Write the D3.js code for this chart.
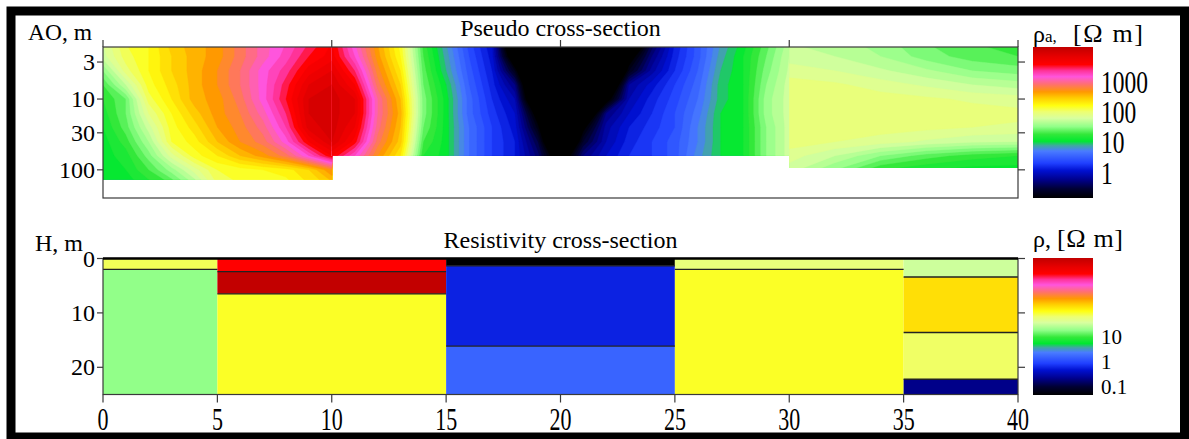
<!DOCTYPE html>
<html>
<head>
<meta charset="utf-8">
<script src="https://cdn.jsdelivr.net/npm/d3@7"></script>
<style>
  html, body { margin: 0; padding: 0; background: #fff; }
  svg { display: block; font-family: "Liberation Serif", "Times New Roman", serif; }
</style>
</head>
<body>
<svg id="chart" width="1189" height="439"></svg>
<script>
// ---------------- axis ticks ----------------
const profileTicks = [0, 5, 10, 15, 20, 25, 30, 35, 40];   // x, m
const profileTopTicks = [0, 10, 20, 30, 40];
const aoTicks = [3, 10, 30, 100];                          // AO, m
const depthTicks = [0, 10, 20];                            // H, m
const rhoaBarTicks = [1000, 100, 10, 1];
const rhoBarTicks = [10, 1, 0.1];

// ---------------- pseudo cross-section ----------------
// AO levels of the sounding grid (m)
const aoLevels = [1.6, 2.5, 4, 6.3, 10, 16, 25, 40, 63, 100, 160];
// section edges along the profile and deepest AO reached in each
const sectionEdges = [0, 10, 30, 40];
const sectionMaxAO = [138, 63, 94];

const xLeft = [0, 1, 2, 3, 4, 5, 6, 7, 8, 9, 10];
// log10 apparent resistivity, rows follow aoLevels
const logRhoaLeft = [
  [1.80, 2.10, 2.20, 2.45, 2.55, 2.65, 2.85, 3.05, 3.20, 3.40, 3.60],
  [1.75, 2.05, 2.20, 2.40, 2.55, 2.65, 2.85, 3.05, 3.25, 3.50, 3.65],
  [1.50, 1.95, 2.20, 2.40, 2.55, 2.70, 2.90, 3.15, 3.35, 3.65, 3.80],
  [1.30, 1.70, 2.15, 2.35, 2.55, 2.70, 2.90, 3.15, 3.45, 3.80, 3.90],
  [1.20, 1.40, 2.05, 2.30, 2.55, 2.65, 2.85, 3.15, 3.50, 3.90, 3.95],
  [1.15, 1.40, 1.90, 2.20, 2.45, 2.65, 2.80, 3.05, 3.40, 3.90, 3.95],
  [1.10, 1.35, 1.75, 2.15, 2.35, 2.60, 2.75, 2.95, 3.30, 3.85, 3.95],
  [1.05, 1.25, 1.60, 2.10, 2.25, 2.50, 2.70, 2.85, 3.15, 3.60, 3.90],
  [1.05, 1.15, 1.45, 1.85, 2.15, 2.30, 2.50, 2.65, 2.85, 3.20, 3.60],
  [1.00, 1.10, 1.30, 1.55, 1.85, 2.10, 2.15, 2.20, 2.25, 2.40, 2.70],
  [1.00, 1.05, 1.15, 1.30, 1.60, 2.00, 2.10, 2.15, 2.15, 2.30, 2.45]
];

const xMiddle = [10, 11, 12, 13, 14, 15, 16, 17, 18, 19, 20, 21, 22, 23, 24, 25, 26, 27, 28, 29, 30];
const logRhoaMiddle = [
  [3.60, 3.10, 2.60, 2.15, 1.25, 0.80, 0.35, 0.00, -1.60, -2.0, -2.0, -2.0, -2.0, -1.80, -0.50, 0.10, 0.45, 0.80, 1.05, 1.35, 1.65],
  [3.65, 3.20, 2.65, 2.20, 1.30, 0.85, 0.40, 0.05, -1.20, -2.0, -2.0, -2.0, -2.0, -1.00, -0.30, 0.15, 0.45, 0.85, 1.10, 1.40, 1.70],
  [3.80, 3.40, 2.75, 2.30, 1.35, 0.90, 0.45, 0.10, -0.70, -2.0, -2.0, -2.0, -2.0, -0.70, -0.15, 0.20, 0.50, 0.90, 1.10, 1.45, 1.72],
  [3.90, 3.60, 2.85, 2.40, 1.40, 1.00, 0.50, 0.15, -0.30, -1.80, -2.0, -2.0, -1.60, -0.20, 0.05, 0.30, 0.55, 0.95, 1.10, 1.50, 1.75],
  [3.95, 3.80, 3.00, 2.50, 1.45, 1.05, 0.55, 0.20, -0.10, -1.60, -2.0, -2.0, -1.00, -0.10, 0.15, 0.35, 0.60, 0.95, 1.10, 1.55, 1.75],
  [3.95, 3.80, 3.00, 2.55, 1.45, 1.05, 0.55, 0.25, 0.00, -1.00, -2.0, -1.50, -0.30, 0.00, 0.20, 0.40, 0.65, 1.00, 1.10, 1.55, 1.75],
  [3.95, 3.70, 2.95, 2.50, 1.40, 1.05, 0.60, 0.30, 0.05, -0.75, -2.0, -0.90, -0.15, 0.10, 0.25, 0.40, 0.70, 1.00, 1.10, 1.50, 1.75],
  [3.90, 3.55, 2.85, 2.45, 1.30, 1.05, 0.60, 0.30, 0.10, -0.50, -1.80, -0.60, -0.10, 0.15, 0.30, 0.45, 0.70, 1.00, 1.10, 1.50, 1.75],
  [3.60, 3.20, 2.70, 2.30, 1.20, 1.05, 0.60, 0.30, 0.10, -0.35, -1.20, -0.30, 0.00, 0.20, 0.30, 0.45, 0.75, 1.00, 1.10, 1.50, 1.75]
];

const xRight = [30, 32, 34, 36, 38, 40];
const logRhoaRight = [
  [1.70, 1.65, 1.55, 1.40, 1.30, 1.25],
  [1.75, 1.70, 1.60, 1.45, 1.35, 1.30],
  [1.85, 1.80, 1.72, 1.62, 1.50, 1.45],
  [1.95, 1.92, 1.85, 1.78, 1.70, 1.65],
  [1.97, 1.97, 1.95, 1.92, 1.88, 1.85],
  [1.98, 1.98, 1.97, 1.96, 1.95, 1.93],
  [1.97, 1.97, 1.95, 1.93, 1.90, 1.88],
  [1.95, 1.90, 1.85, 1.78, 1.72, 1.70],
  [1.85, 1.70, 1.50, 1.35, 1.25, 1.20],
  [1.75, 1.50, 1.20, 1.10, 1.05, 1.05]
];

// ---------------- resistivity model ----------------
const blockEdges = [0, 5, 15, 25, 35, 40];
const layerDepths = [
  [0, 2.0, 25],
  [0, 2.4, 6.5, 25],
  [0, 1.35, 16.1, 25],
  [0, 2.0, 25],
  [0, 3.4, 13.6, 22.2, 25]
];
const layerRho = [
  [70, 18],
  [3000, 12000, 90],
  [0.05, 0.6, 1.6],
  [54, 90],
  [32, 150, 65, 0.22]
];

// ---------------- colour map ----------------
const colormapStops = [0, 0.06, 0.12, 0.181, 0.231, 0.311, 0.347, 0.376, 0.422, 0.472, 0.528,
                       0.572, 0.612, 0.663, 0.703, 0.753, 0.803, 0.843, 0.884, 0.934, 1];
const colormapColors = ["#000000", "#000033", "#00008a", "#0010d0", "#2040ff", "#4a7cff", "#40a8a0",
                        "#00e830", "#33e83a", "#90ff88", "#d8ffa0", "#eeff70", "#ffff10", "#ffcc00",
                        "#ff9900", "#ff7070", "#ff55dd", "#ff3399", "#ff0000", "#e80000", "#c00000"];
const rhoaLogRange = [-0.85, 4.13];
const rhoLogRange = [-1.3, 4.1];

// ---------------- scales ----------------
const svg = d3.select("#chart");
const x = d3.scaleLinear([0, 40], [103, 1018]);
const yAO = d3.scaleLog([1.84, 250], [47, 198]);
const yH = d3.scaleLinear([0, 25], [258.5, 394.5]);

const cmap = d3.scaleLinear(colormapStops, colormapColors).clamp(true);
const tTop = d3.scaleLinear(rhoaLogRange, [0, 1]).clamp(true);
const tBottom = d3.scaleLinear(rhoLogRange, [0, 1]).clamp(true);
const colorTop = v => cmap(tTop(v));
const colorBottom = rho => cmap(tBottom(Math.log10(rho)));

const barTop = d3.scaleLinear(rhoaLogRange, [198, 47]);
const barBottom = d3.scaleLinear(rhoLogRange, [395, 258]);

svg.append("rect").attr("x", 0).attr("y", 0).attr("width", 1189).attr("height", 439).attr("fill", "#fff");

const defs = svg.append("defs");

// ---------------- pseudo section fields ----------------
function drawField(xs, grid, x0, x1, aoMax, id, padR) {
  const nx = xs.length, ny = grid.length;
  const lv = aoLevels.slice(0, ny).map(Math.log10);
  const interp = (arr, c) => {
    const i = c - 0.5;
    const k = Math.max(0, Math.min(arr.length - 2, Math.floor(i)));
    return arr[k] + (i - k) * (arr[k + 1] - arr[k]);
  };
  const proj = d3.geoTransform({
    point(px, py) { this.stream.point(x(interp(xs, px)), yAO(Math.pow(10, interp(lv, py)))); }
  });
  const path = d3.geoPath(proj);
  const thresholds = d3.range(-2.1, 4.25, 0.1);
  const contours = d3.contours().size([nx, ny]).thresholds(thresholds)(grid.flat());

  defs.append("clipPath").attr("id", id).append("rect")
    .attr("x", x(x0)).attr("y", yAO.range()[0])
    .attr("width", x(x1) - x(x0) + padR)
    .attr("height", yAO(aoMax) - yAO.range()[0]);

  svg.append("g").attr("clip-path", `url(#${id})`)
    .selectAll("path").data(contours).join("path")
    .attr("d", path)
    .attr("fill", d => colorTop(d.value + 0.05))
    .attr("stroke", d => colorTop(d.value + 0.05))
    .attr("stroke-width", 0.4);
}
drawField(xLeft, logRhoaLeft, sectionEdges[0], sectionEdges[1], sectionMaxAO[0], "clipL", 0.6);
drawField(xMiddle, logRhoaMiddle, sectionEdges[1], sectionEdges[2], sectionMaxAO[1], "clipM", 0);
drawField(xRight, logRhoaRight, sectionEdges[2], sectionEdges[3], sectionMaxAO[2], "clipR", 0);

// top panel box
const axisColor = "#3a3a3a";
svg.append("rect").attr("x", x(0)).attr("y", 47).attr("width", x(40) - x(0)).attr("height", 151)
  .attr("fill", "none").attr("stroke", axisColor).attr("stroke-width", 1.2);

svg.append("g").selectAll("line").data(profileTopTicks).join("line")
  .attr("x1", d => x(d)).attr("x2", d => x(d)).attr("y1", 47).attr("y2", 40)
  .attr("stroke", axisColor).attr("stroke-width", 1.2);

const aoG = svg.append("g");
aoG.selectAll("line.l").data(aoTicks).join("line").attr("class", "l")
  .attr("x1", x(0) - 6).attr("x2", x(0)).attr("y1", d => yAO(d)).attr("y2", d => yAO(d))
  .attr("stroke", axisColor).attr("stroke-width", 1.2);
aoG.selectAll("line.r").data(aoTicks).join("line").attr("class", "r")
  .attr("x1", x(40)).attr("x2", x(40) + 7).attr("y1", d => yAO(d)).attr("y2", d => yAO(d))
  .attr("stroke", axisColor).attr("stroke-width", 1.2);
aoG.selectAll("text").data(aoTicks).join("text")
  .attr("x", 95).attr("y", d => yAO(d) + 8)
  .attr("text-anchor", "end").attr("font-size", 24).text(d => d);

svg.append("text").attr("x", 28).attr("y", 40).attr("font-size", 23.5).text("AO, m");
svg.append("text").attr("x", x(20)).attr("y", 36).attr("text-anchor", "middle")
  .attr("font-size", 24).text("Pseudo cross-section");

// ---------------- resistivity model ----------------
const blocks = blockEdges.slice(0, -1).map((x0, i) => ({
  x0, x1: blockEdges[i + 1], depths: layerDepths[i], rho: layerRho[i]
}));
const layers = blocks.flatMap(b => b.rho.map((r, j) => ({
  x0: b.x0, x1: b.x1, top: b.depths[j], bottom: b.depths[j + 1], rho: r
})));
const modelG = svg.append("g");
modelG.selectAll("rect").data(layers).join("rect")
  .attr("x", d => x(d.x0)).attr("width", d => x(d.x1) - x(d.x0))
  .attr("y", d => yH(d.top)).attr("height", d => yH(d.bottom) - yH(d.top))
  .attr("fill", d => colorBottom(d.rho));
const interfaces = blocks.flatMap(b => b.depths.slice(1, -1).map(h => ({ x0: b.x0, x1: b.x1, h })));
modelG.selectAll("line").data(interfaces).join("line")
  .attr("x1", d => x(d.x0)).attr("x2", d => x(d.x1))
  .attr("y1", d => yH(d.h)).attr("y2", d => yH(d.h))
  .attr("stroke", "#222").attr("stroke-width", 1.3);

svg.append("rect").attr("x", x(0)).attr("y", yH(0)).attr("width", x(40) - x(0)).attr("height", yH(25) - yH(0))
  .attr("fill", "none").attr("stroke", axisColor).attr("stroke-width", 1.2);
svg.append("line").attr("x1", x(0)).attr("x2", x(40)).attr("y1", yH(0)).attr("y2", yH(0))
  .attr("stroke", "#000").attr("stroke-width", 2.5);

const hG = svg.append("g");
hG.selectAll("line.l").data(depthTicks).join("line").attr("class", "l")
  .attr("x1", x(0) - 6).attr("x2", x(0)).attr("y1", d => yH(d)).attr("y2", d => yH(d))
  .attr("stroke", axisColor).attr("stroke-width", 1.2);
hG.selectAll("line.r").data(depthTicks).join("line").attr("class", "r")
  .attr("x1", x(40)).attr("x2", x(40) + 7).attr("y1", d => yH(d)).attr("y2", d => yH(d))
  .attr("stroke", axisColor).attr("stroke-width", 1.2);
hG.selectAll("text").data(depthTicks).join("text")
  .attr("x", 95).attr("y", d => yH(d) + 8)
  .attr("text-anchor", "end").attr("font-size", 24).text(d => d);

const xG = svg.append("g");
xG.selectAll("line").data(profileTicks).join("line")
  .attr("x1", d => x(d)).attr("x2", d => x(d)).attr("y1", yH(25)).attr("y2", yH(25) + 8)
  .attr("stroke", axisColor).attr("stroke-width", 1.2);
xG.selectAll("text").data(profileTicks).join("text")
  .attr("transform", d => `translate(${x(d)},430) scale(1,1.4)`)
  .attr("text-anchor", "middle").attr("font-size", 22).text(d => d);

svg.append("text").attr("x", 35).attr("y", 251).attr("font-size", 24).text("H, m");
svg.append("text").attr("x", x(20)).attr("y", 248).attr("text-anchor", "middle")
  .attr("font-size", 24).text("Resistivity cross-section");

// ---------------- colour bars ----------------
const grad = defs.append("linearGradient").attr("id", "cbar")
  .attr("x1", 0).attr("y1", 1).attr("x2", 0).attr("y2", 0);
grad.selectAll("stop").data(colormapStops).join("stop")
  .attr("offset", d => d).attr("stop-color", (d, i) => colormapColors[i]);

svg.append("rect").attr("x", 1033).attr("y", 47).attr("width", 60).attr("height", 151).attr("fill", "url(#cbar)");
svg.append("rect").attr("x", 1033).attr("y", 258).attr("width", 60).attr("height", 137).attr("fill", "url(#cbar)");

svg.append("g").selectAll("text").data(rhoaBarTicks).join("text")
  .attr("transform", d => `translate(1101,${barTop(Math.log10(d)) + 11.5}) scale(1,1.3)`)
  .attr("font-size", 23.5).text(d => d);
svg.append("g").selectAll("text").data(rhoBarTicks).join("text")
  .attr("x", 1101).attr("y", d => barBottom(Math.log10(d)) + 7)
  .attr("font-size", 21).text(d => d);

const t1 = svg.append("text").attr("x", 1033).attr("y", 42).attr("font-size", 24);
t1.append("tspan").text("ρ");
t1.append("tspan").attr("font-size", 17).text("a,");
svg.append("text").attr("x", 1073).attr("y", 42).attr("font-size", 26)
  .attr("textLength", 70).attr("lengthAdjust", "spacing").text("[Ω m]");

svg.append("text").attr("x", 1033).attr("y", 247).attr("font-size", 24).text("ρ,");
svg.append("text").attr("x", 1057).attr("y", 247).attr("font-size", 26)
  .attr("textLength", 66).attr("lengthAdjust", "spacing").text("[Ω m]");

// outer border
svg.append("rect").attr("x", 11).attr("y", 11).attr("width", 1173.5).attr("height", 426)
  .attr("fill", "none").attr("stroke", "#000").attr("stroke-width", 9);
</script>
</body>
</html>
